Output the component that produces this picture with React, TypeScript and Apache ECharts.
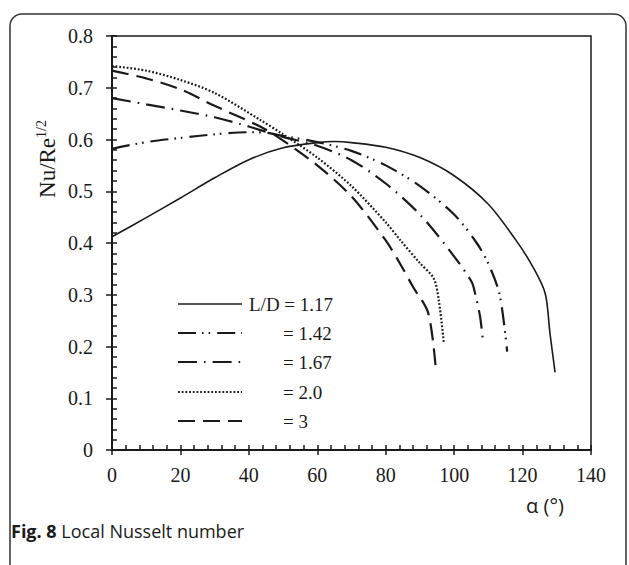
import React, { useEffect, useRef } from "react";
import * as echarts from "echarts";

// ---- data ----
const alpha117 = [0, 10, 20, 30, 40, 50, 60, 65, 70, 80, 90, 100, 110, 118, 123, 126.6, 128, 129.5];
const nu117 = [0.412, 0.449, 0.487, 0.526, 0.561, 0.584, 0.594, 0.596, 0.594, 0.585, 0.565, 0.53, 0.475, 0.406, 0.354, 0.303, 0.226, 0.15];

const alpha142 = [0, 10, 20, 30, 40, 45, 50, 60, 70, 80, 90, 100, 106.6, 110, 113.3, 115.5];
const nu142 = [0.582, 0.595, 0.603, 0.61, 0.614, 0.613, 0.607, 0.595, 0.578, 0.55, 0.51, 0.455, 0.4, 0.36, 0.3, 0.19];

const alpha167 = [0, 10, 20, 30, 40, 50, 60, 70, 80, 90, 99.3, 105.1, 106.2, 107.6, 108.5];
const nu167 = [0.68, 0.668, 0.656, 0.643, 0.625, 0.605, 0.588, 0.56, 0.515, 0.455, 0.38, 0.325, 0.3, 0.257, 0.205];

const alpha20 = [0, 10, 20, 30, 43.3, 50, 60, 70, 80, 84.2, 90, 94, 95.5, 97];
const nu20 = [0.742, 0.733, 0.715, 0.69, 0.638, 0.61, 0.565, 0.51, 0.44, 0.406, 0.361, 0.332, 0.29, 0.206];

const alpha3 = [0, 10, 20, 30, 43.3, 50, 60, 70, 80, 84.2, 88, 92.4, 94.6];
const nu3 = [0.733, 0.718, 0.697, 0.665, 0.625, 0.598, 0.55, 0.49, 0.405, 0.36, 0.315, 0.265, 0.16];

const legendLabels = ["L/D = 1.17", "= 1.42", "= 1.67", "= 2.0", "= 3"];

const INK = "#1a1a1a";
const SERIF = "'Liberation Serif', 'Times New Roman', serif";
const SANS = "'Open Sans', 'Noto Sans', sans-serif";

const dashes: (number[] | "solid")[] = [
  "solid",
  [18, 6, 1.6, 5, 1.6, 7],
  [19, 7, 1.6, 7],
  [1.8, 1.9],
  [17, 8],
];
const widths = [1.6, 2.2, 2.2, 2.2, 2.2];

const zip = (a: number[], b: number[]) => a.map((v, i) => [v, b[i]]);

export default function App() {
  const ref = useRef<HTMLDivElement>(null);
  useEffect(() => {
    const chart = echarts.init(ref.current!, null, { renderer: "svg" });
    const datasets = [
      zip(alpha117, nu117),
      zip(alpha142, nu142),
      zip(alpha167, nu167),
      zip(alpha20, nu20),
      zip(alpha3, nu3),
    ];
    const tickStyle = { color: INK, width: 1.5 };
    const legendRows = [304, 333, 362, 392, 421];
    const graphic: any[] = [
      {
        type: "rect",
        shape: { x: 10, y: 14, width: 616, height: 620, r: 12 },
        style: { fill: "none", stroke: "#333", lineWidth: 1.5 },
        silent: true,
      },
      {
        type: "text",
        x: 47,
        y: 159,
        rotation: Math.PI / 2,
        style: {
          text: "{a|Nu/Re}{s|1/2}",
          align: "center",
          verticalAlign: "middle",
          fill: INK,
          rich: {
            a: { fontFamily: SERIF, fontSize: 23, lineHeight: 26, fill: INK },
            s: { fontFamily: SERIF, fontSize: 14, verticalAlign: "top", fill: INK },
          },
        },
      },
      {
        type: "text",
        x: 545,
        y: 505,
        style: {
          text: "α (°)",
          align: "center",
          verticalAlign: "middle",
          font: `20px ${SANS}`,
          fill: INK,
        },
      },
      {
        type: "text",
        x: 11,
        y: 531,
        style: {
          text: "{b|Fig. 8} Local Nusselt number",
          verticalAlign: "middle",
          fill: INK,
          font: `18px ${SANS}`,
          rich: {
            b: { fontFamily: SANS, fontSize: 18, fontWeight: "bold", fill: INK },
          },
        },
      },
    ];
    legendLabels.forEach((lab, i) => {
      const y = legendRows[i];
      const d = dashes[i];
      graphic.push({
        type: "line",
        shape: { x1: 178, y1: y, x2: 242, y2: y },
        style: {
          stroke: INK,
          lineWidth: widths[i],
          lineDash: d === "solid" ? null : d,
        },
      });
      graphic.push({
        type: "text",
        x: i === 0 ? 249 : 283,
        y,
        style: {
          text: lab,
          verticalAlign: "middle",
          font: `19px ${SERIF}`,
          fill: INK,
        },
      });
    });

    chart.setOption({
      animation: false,
      backgroundColor: "#fff",
      grid: {
        left: 112,
        top: 36,
        right: 38,
        bottom: 115,
        show: true,
        borderColor: INK,
        borderWidth: 1.5,
      },
      xAxis: [
        {
          type: "value",
          min: 0,
          max: 140,
          interval: 20,
          axisLine: { lineStyle: { color: INK, width: 2 } },
          axisTick: { inside: true, length: 5, lineStyle: tickStyle },
          minorTick: { show: true, splitNumber: 5, length: 5, lineStyle: tickStyle },
          axisLabel: { margin: 15, fontFamily: SERIF, fontSize: 20, color: INK },
          splitLine: { show: false },
        },
        {
          type: "value",
          position: "bottom",
          min: 0,
          max: 140,
          interval: 20,
          axisLine: { show: false },
          axisTick: { inside: false, length: 5, lineStyle: tickStyle },
          axisLabel: { show: false },
          splitLine: { show: false },
        },
      ],
      yAxis: [
        {
          type: "value",
          min: 0,
          max: 0.8,
          interval: 0.1,
          axisLine: { show: true, lineStyle: { color: INK, width: 2 } },
          axisTick: { show: true, inside: true, length: 5, lineStyle: tickStyle },
          minorTick: { show: true, splitNumber: 5, length: 5, lineStyle: tickStyle },
          axisLabel: {
            margin: 19,
            fontFamily: SERIF,
            fontSize: 20,
            color: INK,
            formatter: (v: number) => (Math.round(v * 10) / 10).toString(),
          },
          splitLine: { show: false },
        },
        {
          type: "value",
          position: "left",
          min: 0,
          max: 0.8,
          interval: 0.1,
          axisLine: { show: false },
          axisTick: { show: true, inside: false, length: 6, lineStyle: tickStyle },
          axisLabel: { show: false },
          splitLine: { show: false },
        },
      ],
      series: datasets.map((data, i) => ({
        type: "line",
        data,
        xAxisIndex: 0,
        yAxisIndex: 0,
        showSymbol: false,
        symbol: "none",
        smooth: 0.3,
        lineStyle: {
          color: INK,
          width: widths[i],
          type: dashes[i],
          cap: "butt",
        },
        silent: true,
      })),
      graphic,
    });
    return () => chart.dispose();
  }, []);
  return (
    <div
      ref={ref}
      style={{ position: "fixed", left: 0, top: 0, width: 629, height: 565 }}
    />
  );
}
